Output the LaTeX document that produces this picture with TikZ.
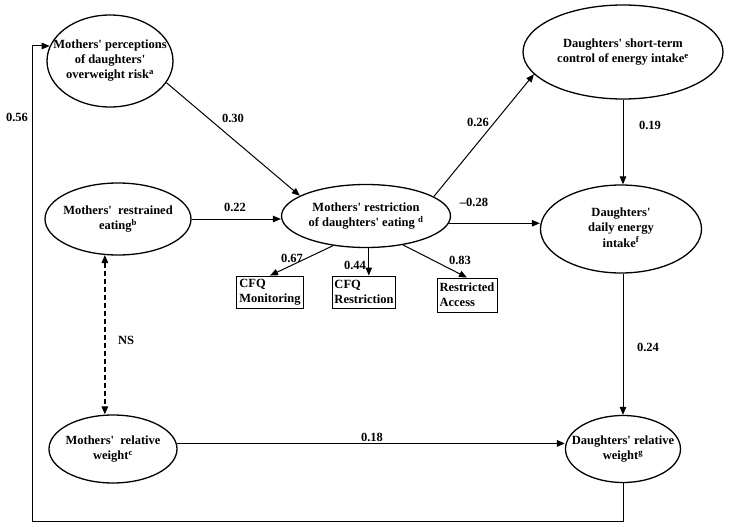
\documentclass[tikz,border=0pt]{standalone}
\usepackage{fontspec}
\setmainfont{Liberation Serif}
\usetikzlibrary{shapes.geometric,arrows.meta}
\newcommand{\elltext}[1]{\makebox[0pt]{\begin{tabular}{@{}c@{}}#1\end{tabular}}}
\newcommand{\ap}{\textquotesingle}
\begin{document}
\begin{tikzpicture}[x=1pt,y=-1pt,
  font=\bfseries\fontsize{12.5}{15}\selectfont,
  ell/.style={draw, ellipse, line width=1.3pt, inner sep=0pt},
  boxnode/.style={draw, rectangle, line width=0.9pt, inner sep=2pt, align=left},
  arr/.style={line width=1pt, -{Triangle[length=8pt,width=6.5pt]}},
  coef/.style={inner sep=0pt}]
\useasboundingbox (0,0) rectangle (729,527);
% ellipses
\node[ell, minimum width=126, minimum height=92] (perc) at (110,61)
  {\elltext{Mothers\ap{} perceptions\\of daughters\ap\\overweight risk\textsuperscript{a}}};
\node[ell, minimum width=200, minimum height=94] (short) at (623,52)
  {\elltext{Daughters\ap{} short-term\\control of energy intake\textsuperscript{e}}};
\node[ell, minimum width=169, minimum height=63] (restr) at (366,216)
  {\elltext{Mothers\ap{} restriction\\of daughters\ap{} eating \textsuperscript{d}}};
\node[ell, minimum width=146, minimum height=72] (reat) at (118,219)
  {\elltext{Mothers\ap\ \ restrained\\eating\textsuperscript{b}}};
\node[ell, minimum width=161, minimum height=88] (daily) at (621,229)
  {\elltext{Daughters\ap\\daily energy\\intake\textsuperscript{f}}};
\node[ell, minimum width=128, minimum height=68] (mw) at (113,449)
  {\elltext{Mothers\ap\ \ relative\\weight\textsuperscript{c}}};
\node[ell, minimum width=115, minimum height=67] (dw) at (623,449)
  {\elltext{Daughters\ap{} relative\\weight\textsuperscript{g}}};
% boxes
\node[boxnode, minimum width=67, minimum height=32] (mon) at (270,292) {CFQ\\Monitoring};
\node[boxnode, minimum width=61, minimum height=32] (cres) at (364,292) {CFQ\\Restriction};
\node[boxnode, minimum width=60, minimum height=34] (acc) at (467,295) {Restricted\\Access};
% connectors
\draw[arr] (perc.-21) -- (restr.163);
\draw[arr] (reat.east) -- (reat.east -| restr.west);
\draw[arr] (restr.16) -- (short.194);
\draw[arr] (restr.-5) -- (restr.-5 -| daily.west);
\draw[arr] (short.south) -- (short.south |- daily.north);
\draw[arr] (dw.north |- daily.south) -- (dw.north);
\draw[arr, line width=1.5pt] (mw.5) -- (mw.5 -| dw.west);
\draw[line width=1.5pt, dash pattern=on 5pt off 3pt, {Triangle[length=8pt,width=6.5pt]}-{Triangle[length=8pt,width=6.5pt]}]
  (reat.-110) -- (reat.-110 |- mw.north);
\draw[arr] (restr.222) -- (mon.north);
\draw[arr] (restr.-85) -- (restr.-85 |- cres.north);
\draw[arr] (restr.-38) -- (acc.north);
\coordinate (fb) at (32,521);
\draw[arr] (dw.south) |- (fb) |- (perc.166);
% coefficients
\node[coef] (c30) at (233,118) {0.30};
\node[coef] (c56) at (17,117) {0.56};
\node[coef] (c22) at (235,207) {0.22};
\node[coef] (c28) at (474,202) {\textendash0.28};
\node[coef] (c26) at (478,122) {0.26};
\node[coef] (c19) at (650,125) {0.19};
\node[coef] (c24) at (648,347) {0.24};
\node[coef] (c18) at (372,437) {0.18};
\node[coef] (cns) at (126,340) {NS};
\node[coef] (c67) at (292,258) {0.67};
\node[coef] (c44) at (355,265) {0.44};
\node[coef] (c83) at (460,260) {0.83};
\end{tikzpicture}
\end{document}
